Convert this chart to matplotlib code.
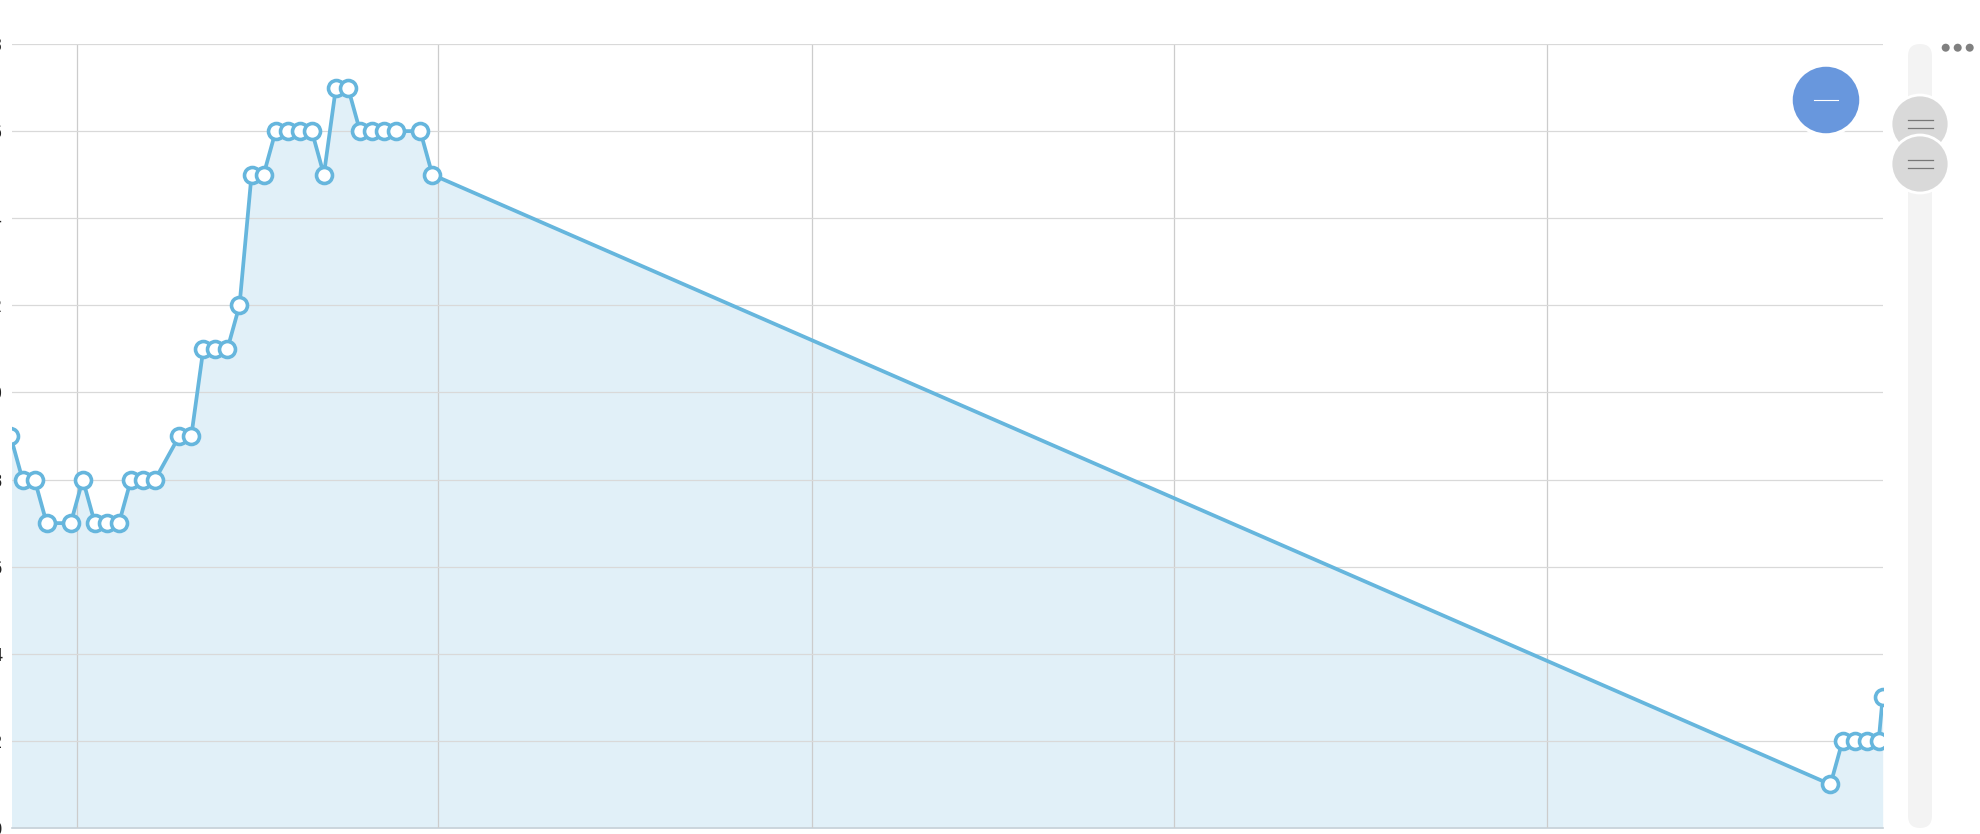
import numpy as np
import pandas as pd
import matplotlib
matplotlib.use("Agg")
import matplotlib.pyplot as plt
import matplotlib.dates as mdates
from matplotlib.patches import Circle, FancyBboxPatch

# data (daily readings, noon timestamps)
dates = [
    "2023-08-26 12:00", "2023-08-27 12:00", "2023-08-28 12:00", "2023-08-29 12:00",
    "2023-08-31 12:00", "2023-09-01 12:00", "2023-09-02 12:00", "2023-09-03 12:00",
    "2023-09-04 12:00", "2023-09-05 12:00", "2023-09-06 12:00", "2023-09-07 12:00",
    "2023-09-09 12:00", "2023-09-10 12:00", "2023-09-11 12:00", "2023-09-12 12:00",
    "2023-09-13 12:00", "2023-09-14 12:00", "2023-09-15 12:00", "2023-09-16 12:00",
    "2023-09-17 12:00", "2023-09-18 12:00", "2023-09-19 12:00", "2023-09-20 12:00",
    "2023-09-21 12:00", "2023-09-22 12:00", "2023-09-23 12:00", "2023-09-24 12:00",
    "2023-09-25 12:00", "2023-09-26 12:00", "2023-09-27 12:00", "2023-09-29 12:00",
    "2023-09-30 12:00",
    "2024-01-24 12:00", "2024-01-25 12:00", "2024-01-26 12:00", "2024-01-27 12:00",
    "2024-01-28 12:00", "2024-01-28 20:00",
]
values = [
    9, 8, 8, 7,
    7, 8, 7, 7,
    7, 8, 8, 8,
    9, 9, 11, 11,
    11, 12, 15, 15,
    16, 16, 16, 16,
    15, 17, 17, 16,
    16, 16, 16, 16,
    15,
    1, 2, 2, 2,
    2, 3,
]
y_ticks = [0, 2, 4, 6, 8, 10, 12, 14, 16, 18]
x_start = "2023-08-26 15:00"
x_end = "2024-01-28 20:00"

line_c = '#66b6dd'
fill_c = '#e1f0f8'

W, H = 1980, 834
fig = plt.figure(figsize=(W / 100, H / 100), dpi=100)
ax = fig.add_axes([12 / W, (H - 828) / H, (1882.7 - 12) / W, (828 - 44) / H])

t = pd.to_datetime(dates)
ax.fill_between(t, values, 0, color=fill_c, lw=0, zorder=1)
ax.plot(t, values, color=line_c, lw=2.7, marker='o', ms=11.5,
        mfc='white', mec=line_c, mew=2.6, zorder=3)

ax.set_xlim(pd.Timestamp(x_start), pd.Timestamp(x_end))
ax.set_ylim(0, 18)
ax.set_yticks(y_ticks)
ax.xaxis.set_major_locator(mdates.MonthLocator())

ax.grid(True, axis='y', color='#d9d9d9', lw=0.9, zorder=2)
ax.grid(True, axis='x', color='#cccccc', lw=0.9, zorder=2)
ax.set_axisbelow(False)

for s in ['top', 'left', 'right']:
    ax.spines[s].set_visible(False)
ax.spines['bottom'].set_color('#c6d0d8')
ax.spines['bottom'].set_linewidth(1.2)
ax.tick_params(axis='both', length=0)
ax.tick_params(axis='x', labelbottom=False)
ax.tick_params(axis='y', pad=7, labelsize=12, labelcolor='#222222')

# overlay for the zoom controls, in pixel units
ov = fig.add_axes([0, 0, 1, 1])
ov.set_xlim(0, W)
ov.set_ylim(H, 0)
ov.axis('off')

ov.add_patch(FancyBboxPatch((1908, 44), 24, 784, boxstyle='round,pad=0,rounding_size=12',
                            fc='#f3f3f3', ec='none'))
for cy in [124, 164]:
    ov.add_patch(Circle((1920, cy), 29, fc='#d9d9d9', ec='white', lw=2))
    for dy in [-4, 4]:
        ov.plot([1908, 1933], [cy + dy, cy + dy], color='#777777', lw=0.9)

ov.add_patch(Circle((1826, 100), 35, fc='#6897dd', ec='white', lw=2.5))
ov.plot([1814, 1838], [100, 100], color='white', lw=0.8)

for cx in [1945.7, 1957.7, 1969.7]:
    ov.add_patch(Circle((cx, 47.7), 4, fc='#808080', ec='none'))

fig.savefig('out.png', dpi=100)
